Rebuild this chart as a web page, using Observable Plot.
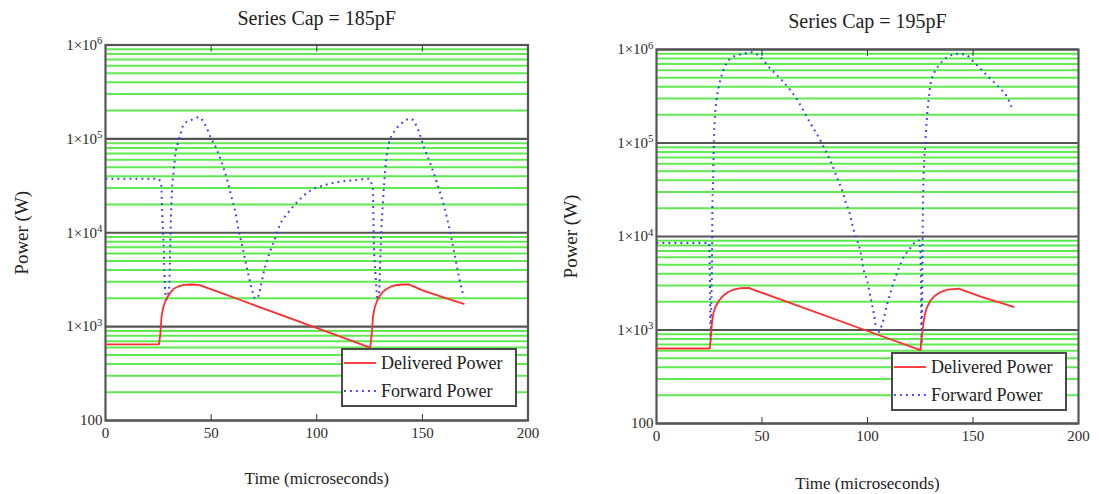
<!DOCTYPE html>
<html>
<head>
<meta charset="utf-8">
<script src="https://cdn.jsdelivr.net/npm/d3@7"></script>
<script src="https://cdn.jsdelivr.net/npm/@observablehq/plot@0.6"></script>
<style>
  body { margin: 0; background: #fff; }
  #wrap { position: relative; width: 1099px; height: 494px; overflow: hidden; background: #fff;
          font-family: "Liberation Serif", "DejaVu Serif", serif; }
  .panel { position: absolute; top: 0; }
  .legend { position: absolute; background: #fff; border: 2px solid #4a4a4a; box-sizing: border-box;
            font-family: "Liberation Serif", "DejaVu Serif", serif; font-size: 18px; color: #222; }
  .legend .sw { position: absolute; }
  .legend .lb { position: absolute; white-space: nowrap; line-height: 1; }
</style>
</head>
<body>
<div id="wrap"></div>
<script>
// ---------------- data ----------------
const titles = ["Series Cap = 185pF", "Series Cap = 195pF"];
const xLabel = "Time (microseconds)";
const yLabel = "Power (W)";
const seriesNames = ["Delivered Power", "Forward Power"];

const xTicks = [0, 50, 100, 150, 200];
const xInnerTicks = [50, 100, 150];
const yTicks = [100, 1e3, 1e4, 1e5, 1e6];
const yTickLabels = ["100", "1×10³", "1×10⁴", "1×10⁵", "1×10⁶"];
const gridMantissas = [2, 3, 4, 5, 6, 7, 8, 9];
const gridDecades = [100, 1e3, 1e4, 1e5];

// [time (µs), power (W)]
const delivered185 = [
  [0,646],[25.3,646],[25.6,720],[26,850],[26.5,1260],[27.3,1590],[28.4,1900],[29.5,2100],[30.7,2300],
  [32.3,2530],[34.5,2680],[37.1,2790],[40.5,2810],[44.2,2790],[54.4,2300],[63.9,1920],[72.6,1625],
  [85,1285],[98.5,993],[111.2,781],[124.6,605],
  [125.3,605],[125.7,720],[126.1,850],[126.6,1260],[127.4,1590],[128.6,1900],[129.8,2120],[131.2,2330],
  [133,2520],[135,2660],[137.5,2760],[140.5,2810],[143.6,2820],[150.7,2400],[158.6,2100],[169.6,1750]
];
const forward185 = [
  [0,37600],[25.2,37600],[25.7,36000],[26.4,31900],[26.8,17400],[27.1,11500],[27.6,6500],[27.9,3600],
  [28.4,2240],[28.9,1950],[29.6,2200],[30.2,2700],[30.6,6500],[31.0,14700],[31.4,26000],[32.3,46000],
  [33.1,69000],[34.2,89000],[35.5,113000],[37.1,144500],[40.2,157000],[44.2,170000],[47.3,139000],
  [49.7,105000],[52.9,75000],[56,48000],[58,34000],[60,22400],[61.5,16600],[63,10700],[64.7,7300],
  [66.3,4900],[67.9,3370],[69.4,2430],[71,1980],[72.3,2090],[73.4,2630],[74.9,3800],[78.1,6490],
  [80.5,8970],[82.8,12500],[86,15900],[90.7,21200],[97,28200],[103.3,31900],[109.7,34600],
  [115.8,36000],[122,37150],[124.6,37600],[126.0,33000],[126.5,30600],[127,8280],[127.8,3660],
  [128.9,1900],[129.6,2500],[130.0,4500],[130.5,9800],[131.4,22100],[132.5,50100],[134.1,88700],
  [136.5,118000],[139.9,144500],[144.4,164000],[147.5,133000],[150.7,81700],[153.8,54300],
  [157,33300],[160.4,18750],[163.3,9770],[164.9,6490],[166.4,4300],[168,2860],[169.6,2060]
];
const delivered195 = [
  [0,634],[25.3,634],[25.6,780],[26.0,1000],[26.4,1260],[27.0,1520],[27.8,1740],[28.8,1920],
  [30.2,2140],[31.9,2355],[34,2550],[36.6,2710],[40,2800],[43.7,2820],[47.7,2610],[60.3,2060],
  [104.6,895],[125.1,608],
  [125.6,800],[126.1,1000],[126.7,1270],[127.3,1500],[128,1700],[129.9,2080],[132,2330],[134.6,2550],
  [138,2700],[143.3,2770],[153.6,2280],[169.3,1770]
];
const forward195 = [
  [0,8530],[25,8530],[25.3,4000],[25.5,1500],[25.7,780],[26.0,2000],[26.4,9100],[26.5,20600],
  [26.9,47000],[27.2,107000],[27.6,174000],[28.4,285000],[29.5,395000],[31.1,550000],[33.5,731000],
  [36.6,841000],[41.4,900000],[45,935000],[49.3,828000],[54,622000],[58.8,486000],[63.5,365000],
  [66.6,292000],[72.2,174000],[78.1,102000],[82.3,65200],[86.4,38200],[88,31200],[89.6,23400],
  [91.1,19100],[93.5,11600],[95.1,9120],[96.7,6820],[98.2,4360],[99.8,3400],[101.4,2260],[103,1500],
  [104.6,920],[107,1170],[109.4,1920],[111.7,2880],[114.8,4540],[117.2,6040],[119.6,7130],
  [121.9,8400],[124.3,9120],[125.0,7500],[125.4,2500],[125.6,700],[125.9,2500],[126.1,9100],
  [126.4,31200],[127,70800],[127.5,107000],[128.3,205000],[129.1,309000],[129.9,430000],
  [131.4,550000],[133.8,675000],[137.8,828000],[143.3,900000],[147.2,863000],[150.4,731000],
  [153.6,622000],[156.7,527000],[159.9,448000],[163,380000],[166.2,309000],[168.6,232000]
];

// ---------------- styling ----------------
const RED = "#ff2d2d";
const BLUE = "#3b3bff";
const GREEN = "#5fea4f";
const DARK = "#555555";
const FONT = "'Liberation Serif', 'DejaVu Serif', serif";

const minorGrid = gridDecades.flatMap(d => gridMantissas.map(m => m * d));
const fmtY = d => yTickLabels[yTicks.indexOf(d)];
const SUP = {"⁰":"0","¹":"1","²":"2","³":"3","⁴":"4","⁵":"5","⁶":"6","⁷":"7","⁸":"8","⁹":"9"};

function panel(cfg) {
  return Plot.plot({
    width: cfg.width,
    height: 494,
    marginLeft: cfg.ml, marginRight: cfg.mr, marginTop: cfg.mt, marginBottom: cfg.mb,
    style: {fontFamily: FONT, fontSize: "15px", color: "#2a2a2a", background: "transparent"},
    x: {domain: [0, 200], label: null},
    y: {type: "log", domain: [100, 1e6], label: null},
    marks: [
      Plot.ruleY(minorGrid, {stroke: GREEN, strokeWidth: 2}),
      Plot.ruleY(yTicks, {stroke: DARK, strokeWidth: 2.2}),
      Plot.frame({stroke: DARK, strokeWidth: 2.2}),
      Plot.axisX(xInnerTicks, {anchor: "bottom", tickSize: -6, fill: "none", stroke: "#333", label: null}),
      Plot.axisX(xInnerTicks, {anchor: "top", tickSize: -6, fill: "none", stroke: "#333", label: null}),
      Plot.axisX(xTicks, {anchor: "bottom", tickSize: 0, tickPadding: 7, fontSize: 15, fontFamily: FONT, label: null}),
      Plot.axisY(yTicks, {anchor: "left", tickSize: 0, tickPadding: 3, tickFormat: fmtY, fontSize: 15, fontFamily: FONT, label: null}),
      Plot.line(cfg.fwd, {x: d => d[0], y: d => d[1], stroke: BLUE, strokeWidth: 2, curve: "monotone-x",
                          strokeDasharray: "1.8,4.2", strokeLinecap: "butt"}),
      Plot.line(cfg.del, {x: d => d[0], y: d => d[1], stroke: RED, strokeWidth: 1.8}),
      Plot.text([cfg.title], {frameAnchor: "top", dy: cfg.titleDy, textAnchor: "middle", lineAnchor: "middle",
                              fontSize: 20, fontFamily: FONT, fill: "#222"}),
      Plot.text([yLabel], {frameAnchor: "left", rotate: -90, dx: cfg.yLabDx, textAnchor: "middle", lineAnchor: "middle",
                           fontSize: 19, fontFamily: FONT, fill: "#222"}),
      Plot.text([xLabel], {frameAnchor: "bottom", dy: cfg.xLabDy, textAnchor: "middle", lineAnchor: "middle",
                           fontSize: 17, fontFamily: FONT, fill: "#222"})
    ]
  });
}

// turn "1×10⁶" into "1×10" + raised exponent (still real text)
function raiseExponents(svg) {
  svg.querySelectorAll("text").forEach(t => {
    const m = t.textContent.match(/^(1×10)([⁰¹²³⁴⁵⁶⁷⁸⁹])$/);
    if (!m) return;
    t.textContent = m[1];
    const ts = document.createElementNS("http://www.w3.org/2000/svg", "tspan");
    ts.setAttribute("dy", "-0.5em");
    ts.setAttribute("font-size", "0.72em");
    ts.textContent = SUP[m[2]];
    t.appendChild(ts);
  });
}

const panels = [
  {left: 0, width: 549, ml: 105, mr: 21.5, mt: 44.5, mb: 74, fwd: forward185, del: delivered185,
   title: titles[0], titleDy: -26, yLabDx: -84, xLabDy: 58,
   legend: {left: 341, top: 348, width: 176, height: 59}},
  {left: 549, width: 550, ml: 107, mr: 21, mt: 49, mb: 71, fwd: forward195, del: delivered195,
   title: titles[1], titleDy: -28, yLabDx: -86, xLabDy: 60,
   legend: {left: 891, top: 352, width: 176, height: 59}}
];

const wrap = document.getElementById("wrap");
for (const p of panels) {
  const div = document.createElement("div");
  div.className = "panel";
  div.style.left = p.left + "px";
  const svg = panel(p);
  raiseExponents(svg);
  div.appendChild(svg);
  wrap.appendChild(div);

  // legend
  const lg = document.createElement("div");
  lg.className = "legend";
  Object.assign(lg.style, {left: p.legend.left + "px", top: p.legend.top + "px",
                           width: p.legend.width + "px", height: p.legend.height + "px"});
  const styles = [
    {stroke: RED, dash: null},
    {stroke: BLUE, dash: "1.8,4.2"}
  ];
  seriesNames.forEach((name, i) => {
    const cy = 13 + i * 27.5;
    const sw = d3.create("svg").attr("class", "sw").attr("width", 34).attr("height", 6)
      .style("left", "1px").style("top", (cy - 3) + "px");
    sw.append("line").attr("x1", 0).attr("x2", 32).attr("y1", 3).attr("y2", 3)
      .attr("stroke", styles[i].stroke).attr("stroke-width", i ? 2 : 1.8)
      .attr("stroke-dasharray", styles[i].dash);
    lg.appendChild(sw.node());
    const lb = document.createElement("div");
    lb.className = "lb";
    lb.textContent = name;
    lb.style.left = "38px";
    lb.style.top = (cy - 9) + "px";
    lg.appendChild(lb);
  });
  wrap.appendChild(lg);
}
</script>
</body>
</html>
